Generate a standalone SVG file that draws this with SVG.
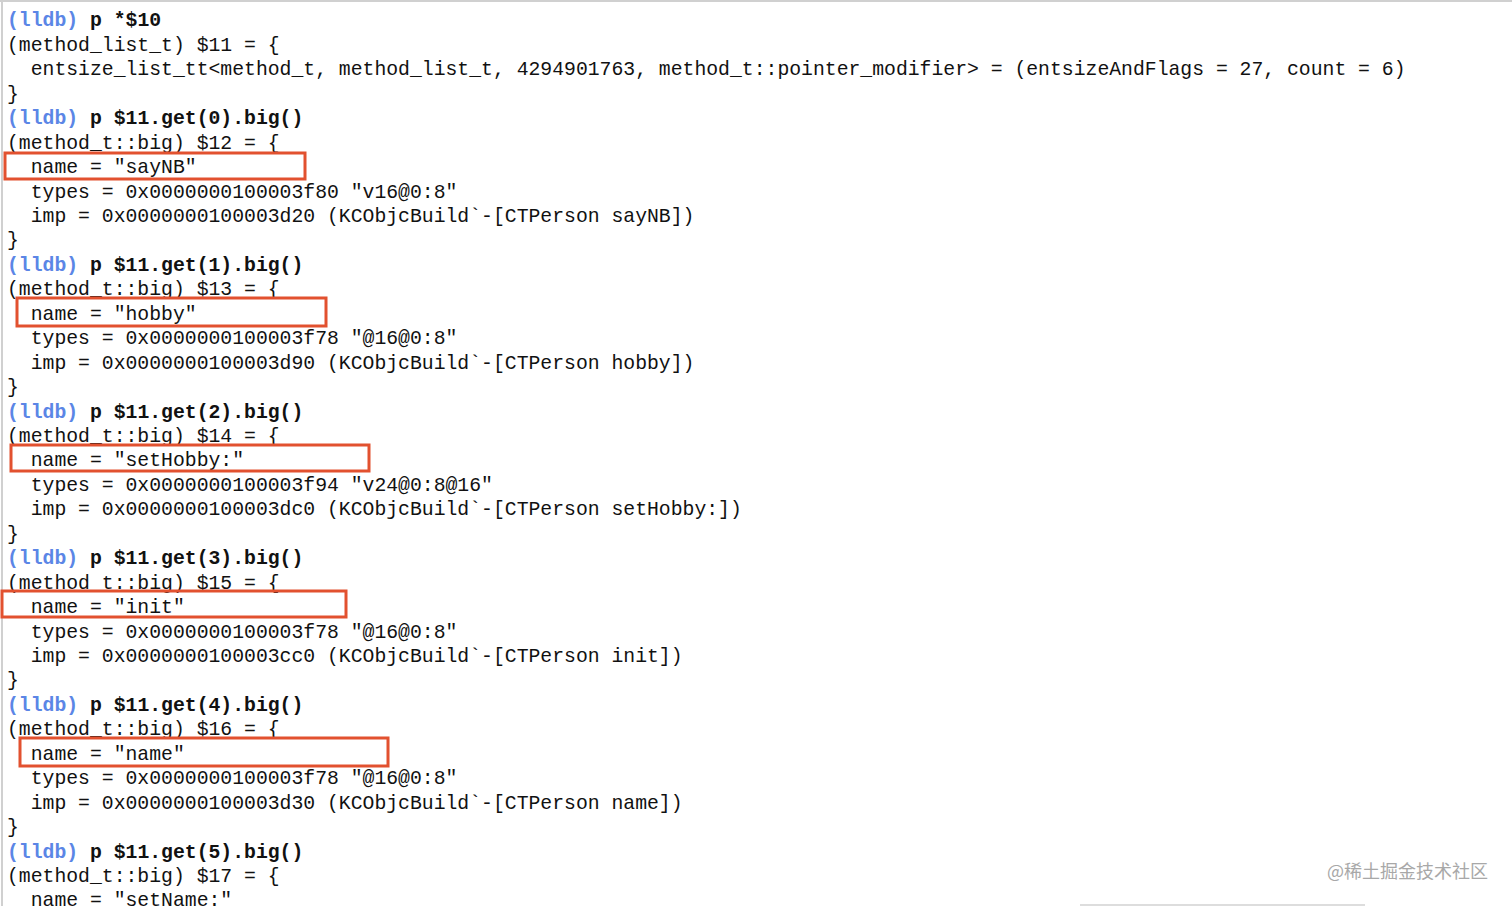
<svg xmlns="http://www.w3.org/2000/svg" width="1512" height="906" viewBox="0 0 1512 906">
<style>
text{font-family:"Liberation Mono","DejaVu Sans Mono",monospace;font-size:19.75px;fill:#111;white-space:pre}
.b{font-weight:bold}
.l{fill:#5b86e6}
.box{fill:none;stroke:#e2512f;stroke-width:3}
.wm{font-family:"Noto Sans CJK SC",sans-serif;font-size:18px;fill:#a8a8a8}
</style>
<rect width="1512" height="906" fill="#fff"/>
<line x1="2" y1="0" x2="2" y2="906" stroke="#d0d0d0" stroke-width="2"/>
<line x1="0" y1="1" x2="1512" y2="1" stroke="#d0d0d0" stroke-width="2"/>
<g id="terminal" xml:space="preserve">
<text x="7" y="26"><tspan class="l b">(lldb)</tspan><tspan class="b"> p *$10</tspan></text>
<text x="7" y="50.5">(method_list_t) $11 = {</text>
<text x="7" y="75">  entsize_list_tt&lt;method_t, method_list_t, 4294901763, method_t::pointer_modifier&gt; = (entsizeAndFlags = 27, count = 6)</text>
<text x="7" y="99.5">}</text>
<text x="7" y="124"><tspan class="l b">(lldb)</tspan><tspan class="b"> p $11.get(0).big()</tspan></text>
<text x="7" y="148.5">(method_t::big) $12 = {</text>
<text x="7" y="173">  name = "sayNB"</text>
<text x="7" y="197.5">  types = 0x0000000100003f80 "v16@0:8"</text>
<text x="7" y="222">  imp = 0x0000000100003d20 (KCObjcBuild`-[CTPerson sayNB])</text>
<text x="7" y="246">}</text>
<text x="7" y="270.5"><tspan class="l b">(lldb)</tspan><tspan class="b"> p $11.get(1).big()</tspan></text>
<text x="7" y="295">(method_t::big) $13 = {</text>
<text x="7" y="319.5">  name = "hobby"</text>
<text x="7" y="344">  types = 0x0000000100003f78 "@16@0:8"</text>
<text x="7" y="368.5">  imp = 0x0000000100003d90 (KCObjcBuild`-[CTPerson hobby])</text>
<text x="7" y="393">}</text>
<text x="7" y="417.5"><tspan class="l b">(lldb)</tspan><tspan class="b"> p $11.get(2).big()</tspan></text>
<text x="7" y="442">(method_t::big) $14 = {</text>
<text x="7" y="466">  name = "setHobby:"</text>
<text x="7" y="490.5">  types = 0x0000000100003f94 "v24@0:8@16"</text>
<text x="7" y="515">  imp = 0x0000000100003dc0 (KCObjcBuild`-[CTPerson setHobby:])</text>
<text x="7" y="539.5">}</text>
<text x="7" y="564"><tspan class="l b">(lldb)</tspan><tspan class="b"> p $11.get(3).big()</tspan></text>
<text x="7" y="588.5">(method_t::big) $15 = {</text>
<text x="7" y="613">  name = "init"</text>
<text x="7" y="637.5">  types = 0x0000000100003f78 "@16@0:8"</text>
<text x="7" y="662">  imp = 0x0000000100003cc0 (KCObjcBuild`-[CTPerson init])</text>
<text x="7" y="686">}</text>
<text x="7" y="710.5"><tspan class="l b">(lldb)</tspan><tspan class="b"> p $11.get(4).big()</tspan></text>
<text x="7" y="735">(method_t::big) $16 = {</text>
<text x="7" y="759.5">  name = "name"</text>
<text x="7" y="784">  types = 0x0000000100003f78 "@16@0:8"</text>
<text x="7" y="808.5">  imp = 0x0000000100003d30 (KCObjcBuild`-[CTPerson name])</text>
<text x="7" y="833">}</text>
<text x="7" y="857.5"><tspan class="l b">(lldb)</tspan><tspan class="b"> p $11.get(5).big()</tspan></text>
<text x="7" y="882">(method_t::big) $17 = {</text>
<text x="7" y="906">  name = "setName:"</text>
</g>
<g id="highlights">
<rect class="box" x="5" y="153" width="300" height="26"/>
<rect class="box" x="17" y="298" width="309" height="28"/>
<rect class="box" x="11" y="445" width="358" height="26"/>
<rect class="box" x="2" y="591" width="344" height="26"/>
<rect class="box" x="20" y="738" width="368" height="28"/>
</g>
<text class="wm" x="1327" y="878">@稀土掘金技术社区</text>
<line x1="1080" y1="905" x2="1365" y2="905" stroke="#ddd" stroke-width="2"/>
</svg>
